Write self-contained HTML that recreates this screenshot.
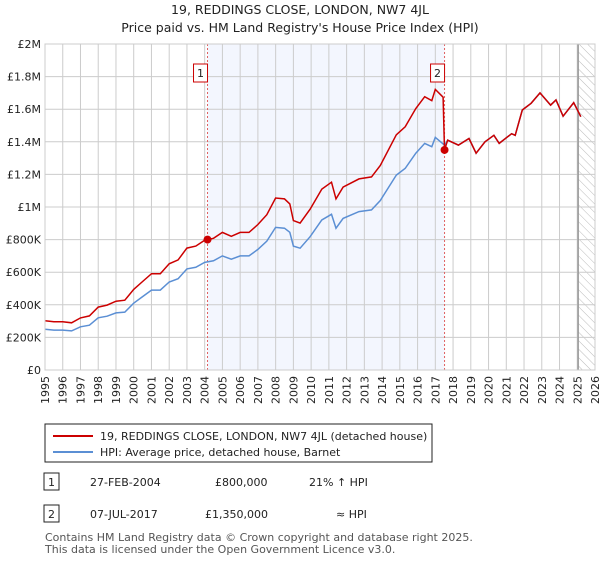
<!DOCTYPE html>
<html><head><meta charset="utf-8"><style>
body{margin:0;background:#fff;font-family:"Liberation Sans","DejaVu Sans",sans-serif;}
svg text{font-family:"DejaVu Sans","Liberation Sans",sans-serif;}
</style></head><body>
<svg id="c" width="600" height="560" viewBox="0 0 600 560" xmlns="http://www.w3.org/2000/svg">
<defs><pattern id="hatch" width="6" height="6" patternUnits="userSpaceOnUse" patternTransform="rotate(-45)"><line x1="0" y1="0" x2="0" y2="6" stroke="#bbb" stroke-width="1"/></pattern></defs>
<text x="300" y="14" text-anchor="middle" font-size="12.5" fill="#222">19, REDDINGS CLOSE, LONDON, NW7 4JL</text>
<text x="300" y="32" text-anchor="middle" font-size="12.5" fill="#222">Price paid vs. HM Land Registry's House Price Index (HPI)</text>
<g id="plot"></g>
<g>
<rect x="45" y="424" width="387" height="38" fill="#fff" stroke="#222" stroke-width="1"/>
<line x1="53" y1="436" x2="93" y2="436" stroke="#cc0000" stroke-width="2"/>
<text x="100" y="440" font-size="11" fill="#222">19, REDDINGS CLOSE, LONDON, NW7 4JL (detached house)</text>
<line x1="53" y1="452" x2="93" y2="452" stroke="#5b8fd4" stroke-width="2"/>
<text x="100" y="456" font-size="11" fill="#222">HPI: Average price, detached house, Barnet</text>
</g>
<g font-size="11" fill="#222">
<rect x="44" y="473" width="15" height="17" fill="#fff" stroke="#222"/><text x="51.5" y="486" text-anchor="middle">1</text>
<text x="90" y="486">27-FEB-2004</text><text x="215" y="486">£800,000</text><text x="309" y="486">21% ↑ HPI</text>
<rect x="44" y="505" width="15" height="17" fill="#fff" stroke="#222"/><text x="51.5" y="518" text-anchor="middle">2</text>
<text x="90" y="518">07-JUL-2017</text><text x="205" y="518">£1,350,000</text><text x="336" y="518">≈ HPI</text>
</g>
<text x="45" y="541" font-size="11" fill="#555">Contains HM Land Registry data © Crown copyright and database right 2025.</text>
<text x="45" y="553" font-size="11" fill="#555">This data is licensed under the Open Government Licence v3.0.</text>
</svg>
<script>
const hpiYears=[1995,1995.5,1996,1996.5,1997,1997.5,1998,1998.5,1999,1999.5,2000,2000.5,2001,2001.5,2002,2002.5,2003,2003.5,2004,2004.5,2005,2005.5,2006,2006.5,2007,2007.5,2008,2008.5,2008.8,2009,2009.38,2009.94,2010.6,2011.15,2011.4,2011.8,2012.7,2013.4,2013.9,2014.8,2015.3,2015.9,2016.4,2016.8,2017.0,2017.3,2017.52,2017.7,2018.3,2018.9,2019.3,2019.8,2020.3,2020.6,2021.3,2021.5,2021.9,2022.4,2022.9,2023.5,2023.8,2024.2,2024.8,2025.2];
const hpiValues=[250000,245000,245000,240000,265000,275000,320000,330000,350000,355000,410000,450000,490000,490000,540000,560000,620000,630000,660000,670000,700000,680000,700000,700000,740000,790000,875000,870000,845000,760000,747000,818000,920000,955000,870000,930000,972000,982000,1040000,1196000,1237000,1330000,1390000,1370000,1427000,1400000,1380000,1410000,1380000,1420000,1330000,1400000,1440000,1390000,1450000,1440000,1595000,1636000,1700000,1625000,1657000,1557000,1640000,1554000];
const saleYears=[2004.16,2017.52];
const salePrices=[800000,1350000];
const yTicks=[0,200000,400000,600000,800000,1000000,1200000,1400000,1600000,1800000,2000000];
const yTickLabels=["£0","£200K","£400K","£600K","£800K","£1M","£1.2M","£1.4M","£1.6M","£1.8M","£2M"];
const xTicks=[1995,1996,1997,1998,1999,2000,2001,2002,2003,2004,2005,2006,2007,2008,2009,2010,2011,2012,2013,2014,2015,2016,2017,2018,2019,2020,2021,2022,2023,2024,2025,2026];
const X0=45,X1=595,Y0=370,Y1=44,YMIN=1995,YMAX=2026,VMAX=2000000,DATA_END=2025.05;
const sx=y=>X0+(y-YMIN)/(YMAX-YMIN)*(X1-X0);
const sy=v=>Y0-v/VMAX*(Y0-Y1);
const NS="http://www.w3.org/2000/svg";
const g=document.getElementById('plot');
function mk(t,a,p){const e=document.createElementNS(NS,t);for(const k in a)e.setAttribute(k,a[k]);(p||g).appendChild(e);return e;}
function hpiAt(y){for(let i=0;i<hpiYears.length-1;i++){if(y>=hpiYears[i]&&y<=hpiYears[i+1]){const t=(y-hpiYears[i])/(hpiYears[i+1]-hpiYears[i]);return hpiValues[i]+t*(hpiValues[i+1]-hpiValues[i]);}}return hpiValues[hpiValues.length-1];}
let e;
e=mk('rect',{x:sx(saleYears[0]),y:Y1,width:sx(saleYears[1])-sx(saleYears[0]),height:Y0-Y1,fill:'#f3f6fe'});


e=mk('rect',{x:sx(DATA_END),y:Y1,width:X1-sx(DATA_END),height:Y0-Y1,fill:'url(#hatch)'});


xTicks.forEach(t=>{
 e=mk('line',{x1:sx(t),x2:sx(t),y1:Y1,y2:Y0,stroke:'#ccc','stroke-width':1});
 
 
 e=mk('text',{x:0,y:0,transform:`translate(${sx(t)+4},${Y0+6}) rotate(-90)`,'text-anchor':'end','font-size':11,fill:'#222'});
 e.textContent=t;
 
 
});
yTicks.forEach((t,i)=>{
 e=mk('line',{x1:X0,x2:X1,y1:sy(t),y2:sy(t),stroke:'#ccc','stroke-width':1});
 
 
 e=mk('text',{x:X0-4,y:sy(t)+4,'text-anchor':'end','font-size':11,fill:'#222'});
 e.textContent=yTickLabels[i];
 
 
});
e=mk('line',{x1:sx(DATA_END),x2:sx(DATA_END),y1:Y1,y2:Y0,stroke:'#999','stroke-width':1.5});


saleYears.forEach((y,i)=>{
 e=mk('line',{x1:sx(y),x2:sx(y),y1:Y1,y2:Y0,stroke:'#e06060','stroke-width':1,'stroke-dasharray':'2,2'});
 
 
});
let d=hpiYears.map((y,i)=>(i?'L':'M')+sx(y).toFixed(1)+','+sy(hpiValues[i]).toFixed(1)).join('');
e=mk('path',{d:d,fill:'none',stroke:'#5b8fd4','stroke-width':1.5});


const r1=salePrices[0]/hpiAt(saleYears[0]);
let pts=[];
hpiYears.forEach((y,i)=>{
 if(y<saleYears[1]-0.1) pts.push([y,hpiValues[i]*r1]);
 else { if(pts.length&&pts[pts.length-1][0]<saleYears[1]-0.1){const ys=saleYears[1]-0.08;pts.push([ys,hpiAt(ys)*r1]);pts.push([saleYears[1],salePrices[1]]);} if(y>saleYears[1]) pts.push([y,hpiValues[i]]); }
});
d=pts.map((p,i)=>(i?'L':'M')+sx(p[0]).toFixed(1)+','+sy(p[1]).toFixed(1)).join('');
e=mk('path',{d:d,fill:'none',stroke:'#cc0000','stroke-width':1.5});


saleYears.forEach((y,i)=>{
 e=mk('circle',{cx:sx(y),cy:sy(salePrices[i]),r:4,fill:'#cc0000'});
 
 
 const bx=sx(y)-11;
 e=mk('rect',{x:bx-3,y:64,width:14,height:18,fill:'#fff',stroke:'#cc0000','stroke-width':1});
 
 
 e=mk('text',{x:bx+4,y:77,'text-anchor':'middle','font-size':11,fill:'#222'});
 e.textContent=String(i+1);
 
 
});
e=mk('rect',{x:X0,y:Y1,width:X1-X0,height:Y0-Y1,fill:'none',stroke:'#ccc'});


</script>
</body></html>
